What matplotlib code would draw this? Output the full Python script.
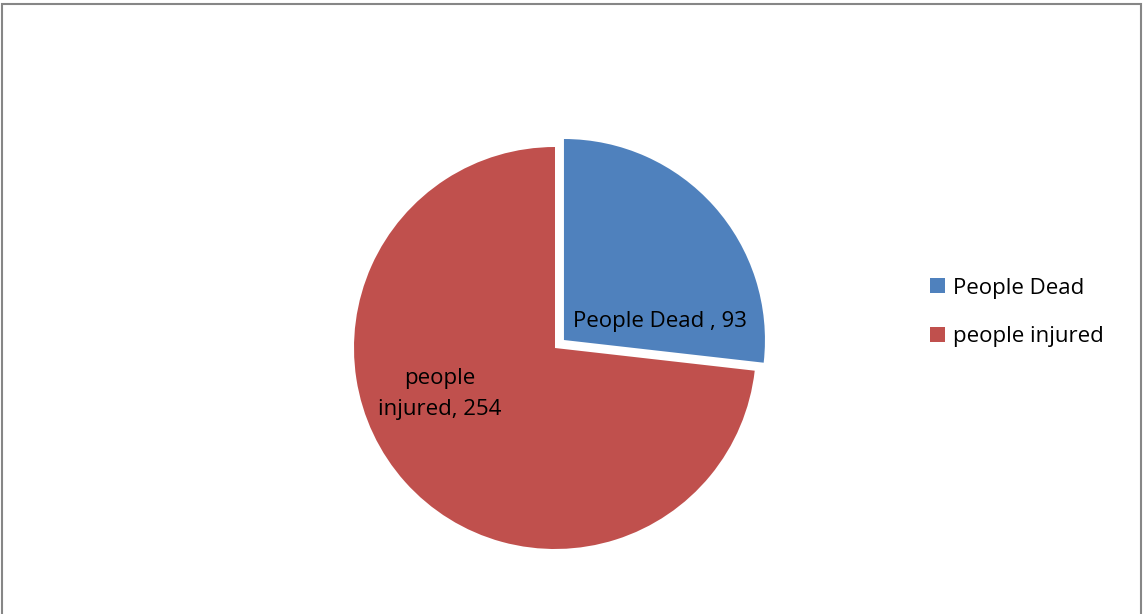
import matplotlib.pyplot as plt
from matplotlib.patches import Rectangle

labels = ['People Dead', 'people injured']
values = [93, 254]
colors = ['#4F81BD', '#C0504D']

plt.rcParams['font.family'] = ['Open Sans', 'DejaVu Sans']

W, H = 1143, 614
fig = plt.figure(figsize=(W / 100, H / 100), dpi=100)
ax = fig.add_axes([0, 0, 1, 1])

cx, cy, r = 555, H - 348, 201
# explode offset is in data units (pixels here)
wedges, _ = ax.pie(values, colors=colors, explode=[12, 0], startangle=90,
                   counterclock=False, center=(cx, cy), radius=r,
                   wedgeprops=dict(linewidth=0), frame=True)
ax.axis('off')
ax.set_xlim(0, W)
ax.set_ylim(0, H)
ax.set_aspect('equal')

fs = 16
# data labels
ax.text(660, H - 321, f'{labels[0]} , {values[0]}', ha='center', va='center', fontsize=fs)
ax.text(440, H - 394, 'people\ninjured, ' + str(values[1]), ha='center', va='center',
        fontsize=fs, linespacing=1.6)

# legend
ax.legend(wedges, labels, loc='center left', bbox_to_anchor=(919 / W, 1 - 312.5 / H),
          frameon=False, fontsize=fs, handlelength=0.68, handleheight=0.68,
          handletextpad=0.35, labelspacing=1.25, borderpad=0)

# chart border
fig.patches.append(Rectangle((2 / W, -0.01), (1141 - 2) / W, 1 - 4 / H + 0.01,
                             transform=fig.transFigure, fill=False,
                             edgecolor='#868686', linewidth=1.5))

fig.savefig('out.png', dpi=100)
